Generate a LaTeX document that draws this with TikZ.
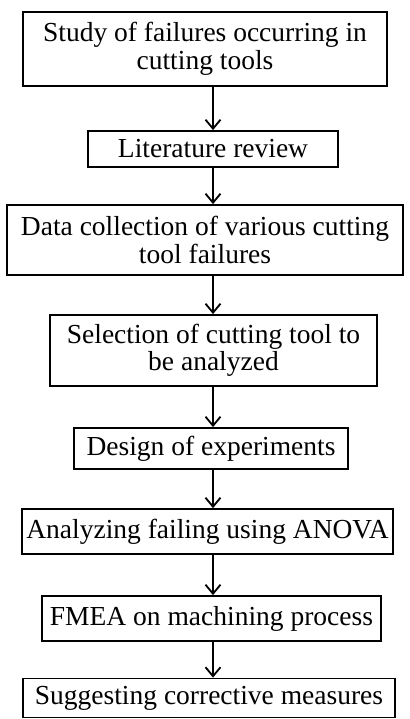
\documentclass[tikz,border=0pt]{standalone}
\usepackage{fontspec}
\setmainfont{Liberation Serif}
\usetikzlibrary{arrows.meta}
\begin{document}
\begin{tikzpicture}[x=1pt,y=-1pt,
  box/.style={draw,line width=1.8pt,inner sep=0pt,align=center,
    font=\fontsize{27.5}{27.5}\selectfont},
  arr/.style={line width=1.8pt,-{Straight Barb[length=9pt,width=15pt,line width=1.8pt]}}]
\useasboundingbox (0,0) rectangle (409,719);
\coordinate (ax) at (213,0);
\node[box,minimum width=364pt,minimum height=74pt] (b1) at (205,49) {Study of failures occurring in\\cutting tools};
\node[box,minimum width=250pt,minimum height=36pt] (b2) at (213,149) {Literature review};
\node[box,minimum width=396pt,minimum height=70pt] (b3) at (205,240) {Data collection of various cutting\\tool failures};
\node[box,minimum width=327pt,minimum height=71pt] (b4) at (213.5,350.5) {Selection of cutting tool to\\be analyzed};
\node[box,minimum width=274pt,minimum height=41pt] (b5) at (211,448.5) {Design of experiments};
\node[box,minimum width=371pt,minimum height=45pt] (b6) at (207.5,531.5) {Analyzing failing using ANOVA};
\node[box,minimum width=339pt,minimum height=45pt] (b7) at (211.5,618.5) {FMEA on machining process};
\node[box,minimum width=372pt,minimum height=39pt] (b8) at (209,698) {Suggesting corrective measures};
\foreach \a/\b in {b1/b2,b2/b3,b3/b4,b4/b5,b5/b6,b6/b7,b7/b8}
  \draw[arr] (\a.south -| ax) -- (\b.north -| ax);
\end{tikzpicture}
\end{document}
